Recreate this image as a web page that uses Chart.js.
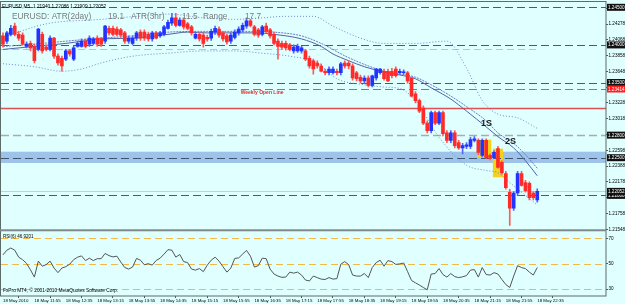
<!DOCTYPE html>
<html><head><meta charset="utf-8">
<script src="https://cdn.jsdelivr.net/npm/chart.js@4.4.1/dist/chart.umd.min.js"></script>
<style>html,body{margin:0;padding:0;background:#e0ffff;overflow:hidden}canvas{display:block}</style>
</head><body>
<canvas id="c" width="625" height="304"></canvas>
<script>
// ---------- DATA ----------
const timeTickLabels = ["18 May 2010","18 May 11:55","18 May 12:35","18 May 13:15","18 May 13:55","18 May 14:35","18 May 15:15","18 May 15:55","18 May 16:35","18 May 17:15","18 May 17:55","18 May 18:35","18 May 19:15","18 May 19:55","18 May 20:35","18 May 21:15","18 May 21:55","18 May 22:35"];
const priceTicks = [1.21548,1.21758,1.21968,1.22178,1.22388,1.22598,1.22808,1.23018,1.23228,1.23438,1.23648,1.23858,1.24068,1.24278,1.24488];
const rsiTicks = [30,50,70];

const openP = [1.2412,1.2405,1.2414,1.2425,1.2414,1.2413,1.2398,1.2402,1.2398,1.2394,
1.2414,1.2397,1.2394,1.2409,1.2385,1.2382,1.2381,1.2392,1.2381,1.2398,
1.2398,1.2405,1.2401,1.2402,1.2409,1.2408,1.2405,1.2422,1.2422,1.2421,
1.2420,1.2416,1.2405,1.2402,1.2409,1.2417,1.2417,1.2414,1.2408,1.2416,
1.2412,1.2414,1.2422,1.2429,1.2436,1.2426,1.2433,1.2428,1.2424,1.2409,
1.2414,1.2413,1.2410,1.2409,1.2417,1.2421,1.2416,1.2412,1.2405,1.2410,
1.2416,1.2420,1.2425,1.2432,1.2424,1.2420,1.2414,1.2425,1.2420,1.2414,
1.2405,1.2402,1.2402,1.2400,1.2392,1.2392,1.2392,1.2392,1.2382,1.2379,
1.2376,1.2372,1.2365,1.2363,1.2363,1.2365,1.2363,1.2376,1.2376,1.2372,
1.2363,1.2357,1.2352,1.2356,1.2346,1.2356,1.2363,1.2365,1.2365,1.2365,
1.2368,1.2363,1.2363,1.2363,1.2356,1.2335,1.2326,1.2316,1.2296,1.2286,
1.2310,1.2296,1.2310,1.2283,1.2273,1.2283,1.2270,1.2263,1.2265,1.2265,
1.2273,1.2273,1.2253,1.2273,1.2253,1.2250,1.2262,1.2244,1.2229,1.2204,
1.2183,1.2203,1.2229,1.2217,1.2216,1.2203,1.21940];
const highP = [1.2416,1.2418,1.2426,1.2429,1.2418,1.2416,1.2404,1.2405,1.2401,1.2422,
1.2417,1.2400,1.2412,1.2410,1.2388,1.2385,1.2394,1.2394,1.2398,1.2405,
1.2408,1.2408,1.2412,1.2410,1.2412,1.2410,1.2426,1.2425,1.2425,1.2424,
1.2422,1.2418,1.2412,1.2412,1.2418,1.2420,1.2420,1.2417,1.2418,1.2418,
1.2418,1.2426,1.2433,1.2442,1.2442,1.2436,1.2436,1.2430,1.2426,1.2417,
1.2417,1.2416,1.2413,1.2421,1.2425,1.2424,1.2418,1.2414,1.2416,1.2420,
1.2424,1.2429,1.2436,1.2434,1.2426,1.2422,1.2426,1.2429,1.2422,1.2417,
1.2408,1.2405,1.2405,1.2402,1.2400,1.2401,1.2398,1.2394,1.2385,1.2381,
1.2379,1.2375,1.2368,1.2371,1.2371,1.2368,1.2377,1.2379,1.2379,1.2375,
1.2365,1.2360,1.2359,1.2359,1.2360,1.2369,1.2369,1.2368,1.2368,1.2369,
1.2371,1.2368,1.2367,1.2365,1.2357,1.2338,1.2328,1.2319,1.2299,1.2312,
1.2312,1.2312,1.2312,1.2286,1.2286,1.2286,1.2273,1.2269,1.2270,1.2277,
1.2278,1.2275,1.2275,1.2275,1.2255,1.2259,1.2265,1.2246,1.2232,1.2208,
1.2205,1.2232,1.2232,1.2220,1.2218,1.2205,1.22086];
const lowP = [1.2397,1.2402,1.2412,1.2412,1.2406,1.2400,1.2396,1.2392,1.2376,1.2392,
1.2389,1.2392,1.2392,1.2382,1.2373,1.2365,1.2379,1.2385,1.2379,1.2397,
1.2397,1.2396,1.2398,1.2400,1.2398,1.2398,1.2402,1.2413,1.2412,1.2412,
1.2410,1.2402,1.2402,1.2400,1.2406,1.2406,1.2406,1.2405,1.2405,1.2408,
1.2410,1.2412,1.2421,1.2426,1.2424,1.2425,1.2421,1.2420,1.2413,1.2408,
1.2405,1.2397,1.2405,1.2406,1.2414,1.2410,1.2405,1.2401,1.2402,1.2408,
1.2413,1.2417,1.2422,1.2424,1.2412,1.2410,1.2412,1.2416,1.2409,1.2400,
1.2381,1.2394,1.2393,1.2392,1.2389,1.2390,1.2389,1.2379,1.2369,1.2361,
1.2369,1.2364,1.2360,1.2360,1.2361,1.2360,1.2360,1.2369,1.2368,1.2353,
1.2352,1.2349,1.2349,1.2344,1.2344,1.2353,1.2361,1.2353,1.2351,1.2356,
1.2357,1.2361,1.2361,1.2349,1.2331,1.2323,1.2310,1.2294,1.2283,1.2283,
1.2294,1.2294,1.2279,1.2270,1.2270,1.2263,1.2261,1.2255,1.2262,1.2262,
1.2271,1.2254,1.2251,1.2249,1.2247,1.2249,1.2236,1.2228,1.2208,1.2160,
1.2180,1.2200,1.2212,1.2204,1.2194,1.2194,1.21909];
const closeP = [1.2401,1.2416,1.2422,1.2414,1.2409,1.2401,1.2401,1.2396,1.2379,1.2421,
1.2392,1.2394,1.2409,1.2385,1.2376,1.2372,1.2392,1.2388,1.2396,1.2402,
1.2405,1.2398,1.2409,1.2408,1.2401,1.2401,1.2425,1.2416,1.2414,1.2414,
1.2413,1.2405,1.2409,1.2409,1.2416,1.2409,1.2409,1.2408,1.2416,1.2409,
1.2416,1.2424,1.2430,1.2436,1.2426,1.2433,1.2424,1.2422,1.2416,1.2414,
1.2408,1.2402,1.2408,1.2418,1.2422,1.2413,1.2408,1.2404,1.2413,1.2417,
1.2421,1.2426,1.2432,1.2426,1.2414,1.2413,1.2424,1.2418,1.2412,1.2402,
1.2398,1.2397,1.2396,1.2394,1.2397,1.2398,1.2396,1.2381,1.2372,1.2368,
1.2372,1.2365,1.2363,1.2368,1.2368,1.2363,1.2375,1.2372,1.2372,1.2356,
1.2355,1.2352,1.2356,1.2346,1.2359,1.2368,1.2368,1.2355,1.2352,1.2359,
1.2359,1.2365,1.2364,1.2352,1.2332,1.2326,1.2312,1.2296,1.2286,1.2310,
1.2296,1.2310,1.2282,1.2273,1.2283,1.2266,1.2263,1.2266,1.2267,1.2274,
1.2275,1.2257,1.2273,1.2250,1.2249,1.2257,1.2237,1.2230,1.2210,1.2183,
1.2203,1.2229,1.2213,1.2206,1.2197,1.2197,1.22052];

const rsiValues = [56.9,60.6,62.3,60.6,55.1,53.1,50.2,45.1,39.4,52.0,
48.0,49.2,52.0,46.5,42.9,46.5,47.6,49.6,53.1,55.1,
56.1,52.4,54.3,52.4,53.9,53.9,58.0,56.3,55.3,55.9,
51.2,46.9,45.7,47.3,54.1,52.7,49.1,50.0,48.8,52.5,
54.3,57.5,61.0,60.6,55.1,57.2,51.6,50.8,45.7,44.9,
46.1,43.7,48.8,52.7,55.1,52.0,47.6,43.3,46.5,54.1,
54.5,57.5,60.4,55.9,47.3,48.4,54.3,53.9,45.7,41.8,
40.2,39.2,39.4,43.3,42.5,43.3,41.0,37.1,36.3,40.2,
39.0,37.8,37.5,39.0,37.8,38.2,49.6,51.6,49.2,41.0,
40.2,40.2,42.2,39.0,46.9,50.8,52.7,48.0,52.4,51.6,
49.4,49.8,50.5,43.7,36.7,34.9,33.1,31.2,29.4,41.8,
42.2,46.1,41.4,39.4,42.2,39.8,39.0,39.6,40.6,44.9,
45.3,39.4,46.9,41.4,41.0,42.9,41.8,37.5,33.5,31.2,
40.2,48.4,46.9,46.1,43.3,41.0,46.9201];

// moving average & envelope lines: [bar index, price]
const maLine = [[0,1.2394],[8,1.2398],[16,1.2402],[25,1.2408],[33,1.2409],[42,1.2414],[47,1.2417],[52,1.2416],[59,1.2416],[64,1.2416],[69,1.2414],[76,1.2408],[81,1.2398],[84,1.2388],[88,1.2379],[92,1.2371],[97,1.2364],[101,1.2360],[105,1.2355],[109,1.2343],[114,1.2328],[118,1.2312],[123,1.2291],[126,1.2278],[130,1.2263],[133,1.2246],[136,1.2226]];
const maLine2 = [[0,1.2398],[8,1.2401],[16,1.2405],[25,1.2409],[33,1.2412],[42,1.2417],[52,1.2418],[64,1.2418],[69,1.2417],[76,1.2412],[81,1.2402],[88,1.2383],[97,1.2365],[105,1.2357],[109,1.2347],[114,1.2332],[118,1.2318],[123,1.2299],[126,1.2283],[130,1.2269],[133,1.2254],[136,1.2236]];
const upperBand = [[0,1.2410],[11,1.2428],[25,1.2434],[34,1.2438],[42,1.2441],[51,1.2436],[59,1.2434],[66,1.2436],[72,1.2438],[79,1.2438],[84,1.2425],[91,1.2409],[97,1.2402],[105,1.2402],[113,1.2405],[118,1.2369],[122,1.2326],[126,1.2308],[131,1.2303],[136,1.2289]];
const lowerBand = [[0,1.2375],[8,1.2371],[15,1.2365],[20,1.2368],[25,1.2376],[33,1.2385],[42,1.2389],[51,1.2392],[59,1.2392],[66,1.2389],[73,1.2385],[80,1.2376],[85,1.2355],[92,1.2347],[97,1.2344],[101,1.2342],[105,1.2326],[111,1.2277],[118,1.2240],[123,1.2233],[126,1.2230],[129,1.2217],[136,1.2187]];

// horizontal levels
const roundLevels = [1.2450, 1.2400, 1.2350, 1.2200];
const grayLevel = 1.2280;
const priorLevel = 1.2394;
const weeklyOpen = 1.23414;
const dayLine = 1.2316;
const zoneRange = [1.2243, 1.2258];
const zoneMid = 1.2250;
const weeklyLabelBar = 60.5;

// highlighted candle groups: [firstBar, lastBar, high, low]
const highlights = [[121,124,1.2274,1.2250],[125,127,1.2262,1.2224]];
const signals = [{text:'1S', bar:123.1, price:1.2296},{text:'2S', bar:129.2, price:1.2271}];
const atrTexts = ['EURUSD: ATR(2day)','19.1','ATR(3hr)','11.5','Range','17.7'];

// ---------- STYLE ----------
const BULL='#2233ff', BEAR='#ff2a2a', BULLW='#5566ff', BEARW='#ff5a5a';
const FONT='"Liberation Sans", Arial, sans-serif';
const bars = openP.map((_, i) => i);
const isUp = i => closeP[i] >= openP[i];
const pts = a => a.map(([i, v]) => ({x: i, y: v}));

const overlay = {
  id: 'overlay',
  beforeDraw(chart) {
    const c = chart.ctx; c.save(); c.fillStyle = '#e0ffff'; c.fillRect(0,0,chart.width,chart.height); c.restore();
  },
  beforeDatasetsDraw(chart) {
    const c = chart.ctx, a = chart.chartArea, x = chart.scales.x, y = chart.scales.y, r = chart.scales.y2;
    const L = a.left, R = a.right;
    c.save();
    c.beginPath(); c.rect(L, y.top, R-L, y.bottom-y.top); c.clip();
    const z1 = y.getPixelForValue(zoneRange[1]), z0 = y.getPixelForValue(zoneRange[0]);
    c.fillStyle = '#9dc3ea'; c.fillRect(L, z1, R-L, z0-z1);
    c.fillStyle = '#f2d21a';
    highlights.forEach(([b0,b1,hi,lo]) => {
      const x0 = x.getPixelForValue(b0-0.3), x1 = x.getPixelForValue(b1+0.3);
      const y0 = y.getPixelForValue(hi), y1 = y.getPixelForValue(lo);
      c.fillRect(x0, y0, x1-x0, y1-y0);
    });
    const hl = (p, col, dash, w, xe) => {
      const py = Math.round(y.getPixelForValue(p)) + (w % 2 ? 0.5 : 0);
      c.beginPath(); c.setLineDash(dash); c.strokeStyle = col; c.lineWidth = w;
      c.moveTo(L, py); c.lineTo(xe === undefined ? R : xe, py); c.stroke();
    };
    hl(priorLevel, '#b9c6c6', [7,4], 1, x.getPixelForValue(bars.length-1));
    roundLevels.forEach(p => hl(p, '#4e5c5c', [8,4], 1));
    hl(grayLevel, '#a3afaf', [8,4], 1.5);
    hl(zoneMid, '#3e5570', [8,4], 1);
    hl(weeklyOpen, '#e25555', [8,4], 1);
    hl(dayLine, '#e05050', [], 1.5);
    hl(closeP[closeP.length-1], '#b4d2f2', [], 1);
    c.restore();
    c.save();
    rsiTicks.forEach(v => {
      const py = Math.round(r.getPixelForValue(v)) + 0.5;
      c.beginPath(); c.setLineDash([7,4]); c.strokeStyle = '#f2b84a'; c.lineWidth = 1;
      c.moveTo(L, py); c.lineTo(R, py); c.stroke();
    });
    c.restore();
  },
  afterDraw(chart) {
    const c = chart.ctx, a = chart.chartArea, x = chart.scales.x, y = chart.scales.y, r = chart.scales.y2;
    c.save();
    c.strokeStyle = '#5d6b6b'; c.lineWidth = 1; c.setLineDash([]);
    c.strokeRect(0.5, 1.5, a.right - 0.5, a.bottom - 1.5);
    c.fillStyle = '#7d8a8a'; c.fillRect(0, y.bottom, a.right, 2);
    c.font = '4.6px ' + FONT; c.textBaseline = 'middle'; c.textAlign = 'left';
    const box = (p, bg) => {
      const py = y.getPixelForValue(p);
      c.fillStyle = bg; c.fillRect(a.right + 1, py - 3.5, 20, 7);
      c.fillStyle = '#ffffff'; c.fillText(p.toFixed(5), a.right + 2, py + 0.3);
    };
    roundLevels.forEach(p => box(p, '#111'));
    box(grayLevel, '#111'); box(zoneMid, '#111');
    box(closeP[closeP.length-1], '#111');
    box(weeklyOpen, '#ff1e1e');
    c.fillStyle = '#000'; c.font = '4.8px ' + FONT; c.textBaseline = 'alphabetic';
    c.fillText('EURUSD,M5  ' + [openP, highP, lowP, closeP].map(s => s[s.length-1].toFixed(5)).join(' '), 2, 7.5);
    c.font = '8.3px ' + FONT; c.fillStyle = '#7a7a7a';
    const ax = [12, 108, 131, 182, 203, 245];
    atrTexts.forEach((t, k) => c.fillText(t, ax[k], 18.5));
    c.font = 'bold 5px ' + FONT; c.fillStyle = '#e03030';
    c.fillText('Weekly Open Line', x.getPixelForValue(weeklyLabelBar), y.getPixelForValue(weeklyOpen) + 5.5);
    c.font = 'bold 9px ' + FONT; c.fillStyle = '#1a1a1a'; c.textAlign = 'center'; c.textBaseline = 'middle';
    signals.forEach(s => c.fillText(s.text, x.getPixelForValue(s.bar), y.getPixelForValue(s.price)));
    c.textAlign = 'left'; c.fillStyle = '#000'; c.font = '4.5px ' + FONT;
    c.fillText('RSI(6) ' + rsiValues[rsiValues.length-1].toFixed(4), 3, r.top + 7);
    c.font = '4.8px ' + FONT;
    c.fillText('FxPro MT4, \u00a9 2001-2010 MetaQuotes Software Corp.', 3, r.bottom - 5);
    c.restore();
  }
};

new Chart(document.getElementById('c'), {
  type: 'bar',
  data: { datasets: [
    {type:'bar', data: bars.map(i => ({x:i, y:[openP[i], closeP[i]]})), backgroundColor: ctx => isUp(ctx.dataIndex) ? BULL : BEAR, barThickness: 3, minBarLength: 1, grouped: false, order: 1, yAxisID: 'y'},
    {type:'bar', data: bars.map(i => ({x:i, y:[lowP[i], highP[i]]})), backgroundColor: ctx => isUp(ctx.dataIndex) ? BULLW : BEARW, barThickness: 1, grouped: false, order: 2, yAxisID: 'y'},
    {type:'line', data: pts(maLine), borderColor:'#5363a6', borderWidth: 1, pointRadius: 0, cubicInterpolationMode:'monotone', order: 4, yAxisID: 'y'},
    {type:'line', data: pts(maLine2), borderColor:'#6a7cc4', borderWidth: 1, borderDash:[2,1], pointRadius: 0, cubicInterpolationMode:'monotone', order: 5, yAxisID: 'y'},
    {type:'line', data: pts(upperBand), borderColor:'#6f88d6', borderWidth: 1, borderDash:[1,2], pointRadius: 0, cubicInterpolationMode:'monotone', order: 6, yAxisID: 'y'},
    {type:'line', data: pts(lowerBand), borderColor:'#6f88d6', borderWidth: 1, borderDash:[1,2], pointRadius: 0, cubicInterpolationMode:'monotone', order: 6, yAxisID: 'y'},
    {type:'line', data: bars.map(i => ({x:i, y:rsiValues[i]})), borderColor:'#555555', borderWidth: 1, pointRadius: 0, tension: 0, order: 3, yAxisID: 'y2'}
  ]},
  options: {
    responsive: false, animation: false, devicePixelRatio: 1, events: [],
    layout: { padding: { top: 2, left: 1, right: 0, bottom: 0 } },
    plugins: { legend: { display: false }, tooltip: { enabled: false } },
    scales: {
      x: { type: 'linear', min: -0.5, max: 153.5, offset: false,
        afterFit: s => { s.height = 8; },
        afterBuildTicks: s => { s.ticks = timeTickLabels.map((_, k) => ({ value: k * 8 })); },
        grid: { drawOnChartArea: false, drawTicks: true, tickLength: 2, color: '#555' },
        border: { display: false },
        ticks: { autoSkip: false, maxRotation: 0, minRotation: 0, align: 'start', padding: 0, color: '#000',
          font: { family: FONT, size: 4.4 }, callback: v => timeTickLabels[Math.round(v / 8)] } },
      y: { type: 'linear', position: 'right', stack: 'pane', stackWeight: 227, min: 1.21548, max: 1.24554,
        afterFit: s => { s.width = 19; },
        afterBuildTicks: s => { s.ticks = priceTicks.map(v => ({ value: v })); },
        grid: { drawOnChartArea: false, drawTicks: true, tickLength: 2, color: '#555' },
        border: { display: false },
        ticks: { autoSkip: false, padding: 0.5, color: '#000', font: { family: FONT, size: 4.6 }, callback: v => v.toFixed(5) } },
      y2: { type: 'linear', position: 'right', stack: 'pane', stackWeight: 67, min: 24.5, max: 77.06,
        afterFit: s => { s.width = 19; },
        afterBuildTicks: s => { s.ticks = rsiTicks.map(v => ({ value: v })); },
        grid: { drawOnChartArea: false, drawTicks: true, tickLength: 2, color: '#555' },
        border: { display: false },
        ticks: { autoSkip: false, padding: 0.5, color: '#000', font: { family: FONT, size: 4.6 }, callback: v => String(v) } }
    }
  },
  plugins: [overlay]
});
</script>
</body></html>
